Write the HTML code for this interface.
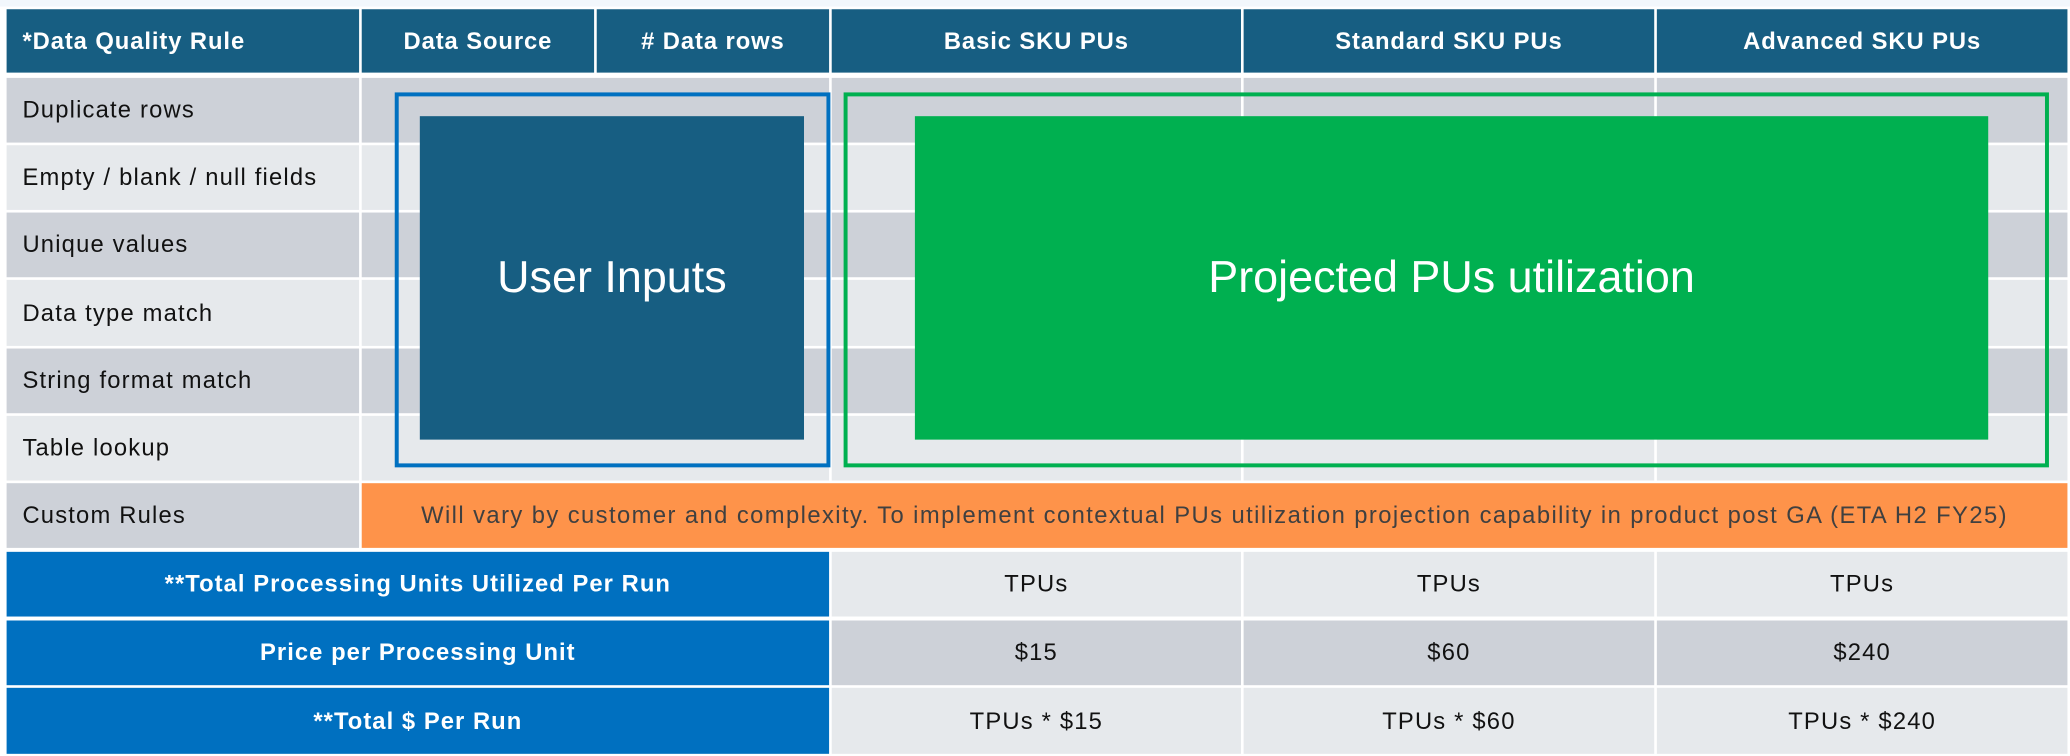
<!DOCTYPE html>
<html><head><meta charset="utf-8"><style>
html,body{margin:0;padding:0;width:2070px;height:756px;overflow:hidden;background:#f2f7fc;}
#w{position:absolute;left:0;top:0;width:1568px;height:573px;transform:scale(1.3202);transform-origin:0 0;font-family:"Liberation Sans",Arial,sans-serif;}
.c{position:absolute;box-sizing:border-box;display:flex;align-items:center;font-size:18px;letter-spacing:0.9px;color:#111;white-space:nowrap;}
.h{background:#175e82;color:#fff;font-weight:bold;justify-content:center;letter-spacing:0.7px;}
.d{background:#cdd1d8;}
.l{background:#e6e9ec;}
.lab{padding-left:12px;}
.b{background:#0070c0;color:#fff;font-weight:bold;justify-content:center;letter-spacing:0.8px;}
.m{justify-content:center;}
</style></head><body><div id="w">
<div style="position:absolute;left:0;top:5px;width:1568px;height:568px;background:#fff"></div>
<!-- header -->
<div class="c h" style="left:5px;top:7px;width:267px;height:48px;justify-content:flex-start;padding-left:12px">*Data Quality Rule</div>
<div class="c h" style="left:274px;top:7px;width:176px;height:48px">Data Source</div>
<div class="c h" style="left:452px;top:7px;width:176px;height:48px"># Data rows</div>
<div class="c h" style="left:630px;top:7px;width:310px;height:48px">Basic SKU PUs</div>
<div class="c h" style="left:942px;top:7px;width:311px;height:48px">Standard SKU PUs</div>
<div class="c h" style="left:1255px;top:7px;width:311px;height:48px">Advanced SKU PUs</div>

<!-- rule rows -->
<div class="c d lab" style="left:5px;top:59px;width:267px;height:49px">Duplicate rows</div>
<div class="c l lab" style="left:5px;top:110px;width:267px;height:49px">Empty / blank / null fields</div>
<div class="c d lab" style="left:5px;top:161px;width:267px;height:49px">Unique values</div>
<div class="c l lab" style="left:5px;top:212px;width:267px;height:50px">Data type match</div>
<div class="c d lab" style="left:5px;top:264px;width:267px;height:49px">String format match</div>
<div class="c l lab" style="left:5px;top:315px;width:267px;height:49px">Table lookup</div>
<div class="c d lab" style="left:5px;top:366px;width:267px;height:49px">Custom Rules</div>

<!-- body fills for rule rows -->
<div class="c d" style="left:274px;top:59px;width:354px;height:49px"></div>
<div class="c d" style="left:630px;top:59px;width:310px;height:49px"></div>
<div class="c d" style="left:942px;top:59px;width:311px;height:49px"></div>
<div class="c d" style="left:1255px;top:59px;width:311px;height:49px"></div>
<div class="c l" style="left:274px;top:110px;width:354px;height:49px"></div>
<div class="c l" style="left:630px;top:110px;width:310px;height:49px"></div>
<div class="c l" style="left:942px;top:110px;width:311px;height:49px"></div>
<div class="c l" style="left:1255px;top:110px;width:311px;height:49px"></div>
<div class="c d" style="left:274px;top:161px;width:354px;height:49px"></div>
<div class="c d" style="left:630px;top:161px;width:310px;height:49px"></div>
<div class="c d" style="left:942px;top:161px;width:311px;height:49px"></div>
<div class="c d" style="left:1255px;top:161px;width:311px;height:49px"></div>
<div class="c l" style="left:274px;top:212px;width:354px;height:50px"></div>
<div class="c l" style="left:630px;top:212px;width:310px;height:50px"></div>
<div class="c l" style="left:942px;top:212px;width:311px;height:50px"></div>
<div class="c l" style="left:1255px;top:212px;width:311px;height:50px"></div>
<div class="c d" style="left:274px;top:264px;width:354px;height:49px"></div>
<div class="c d" style="left:630px;top:264px;width:310px;height:49px"></div>
<div class="c d" style="left:942px;top:264px;width:311px;height:49px"></div>
<div class="c d" style="left:1255px;top:264px;width:311px;height:49px"></div>
<div class="c l" style="left:274px;top:315px;width:354px;height:49px"></div>
<div class="c l" style="left:630px;top:315px;width:310px;height:49px"></div>
<div class="c l" style="left:942px;top:315px;width:311px;height:49px"></div>
<div class="c l" style="left:1255px;top:315px;width:311px;height:49px"></div>

<!-- orange -->
<div class="c m" style="left:274px;top:366px;width:1292px;height:49px;background:#fe934a;color:#404040;font-size:18px;letter-spacing:1.08px">Will vary by customer and complexity. To implement contextual PUs utilization projection capability in product post GA (ETA H2 FY25)</div>

<!-- bottom -->
<div class="c b" style="left:5px;top:418px;width:623px;height:49px">**Total Processing Units Utilized Per Run</div>
<div class="c l m" style="left:630px;top:418px;width:310px;height:49px">TPUs</div>
<div class="c l m" style="left:942px;top:418px;width:311px;height:49px">TPUs</div>
<div class="c l m" style="left:1255px;top:418px;width:311px;height:49px">TPUs</div>
<div class="c b" style="left:5px;top:470px;width:623px;height:49px">Price per Processing Unit</div>
<div class="c d m" style="left:630px;top:470px;width:310px;height:49px">$15</div>
<div class="c d m" style="left:942px;top:470px;width:311px;height:49px">$60</div>
<div class="c d m" style="left:1255px;top:470px;width:311px;height:49px">$240</div>
<div class="c b" style="left:5px;top:521px;width:623px;height:50px">**Total $ Per Run</div>
<div class="c l m" style="left:630px;top:521px;width:310px;height:50px">TPUs * $15</div>
<div class="c l m" style="left:942px;top:521px;width:311px;height:50px">TPUs * $60</div>
<div class="c l m" style="left:1255px;top:521px;width:311px;height:50px">TPUs * $240</div>

<!-- overlays -->
<div style="position:absolute;left:299px;top:70px;width:330px;height:284px;box-sizing:border-box;border:3px solid #0070c0"></div>
<div class="c m" style="left:318px;top:88px;width:291px;height:245px;background:#175e82;color:#fff;font-size:34px;letter-spacing:0">User Inputs</div>
<div style="position:absolute;left:639px;top:70px;width:913px;height:284px;box-sizing:border-box;border:3px solid #00b050"></div>
<div class="c m" style="left:693px;top:88px;width:813px;height:245px;background:#00b050;color:#fff;font-size:34px;letter-spacing:0">Projected PUs utilization</div>
</div></body></html>
